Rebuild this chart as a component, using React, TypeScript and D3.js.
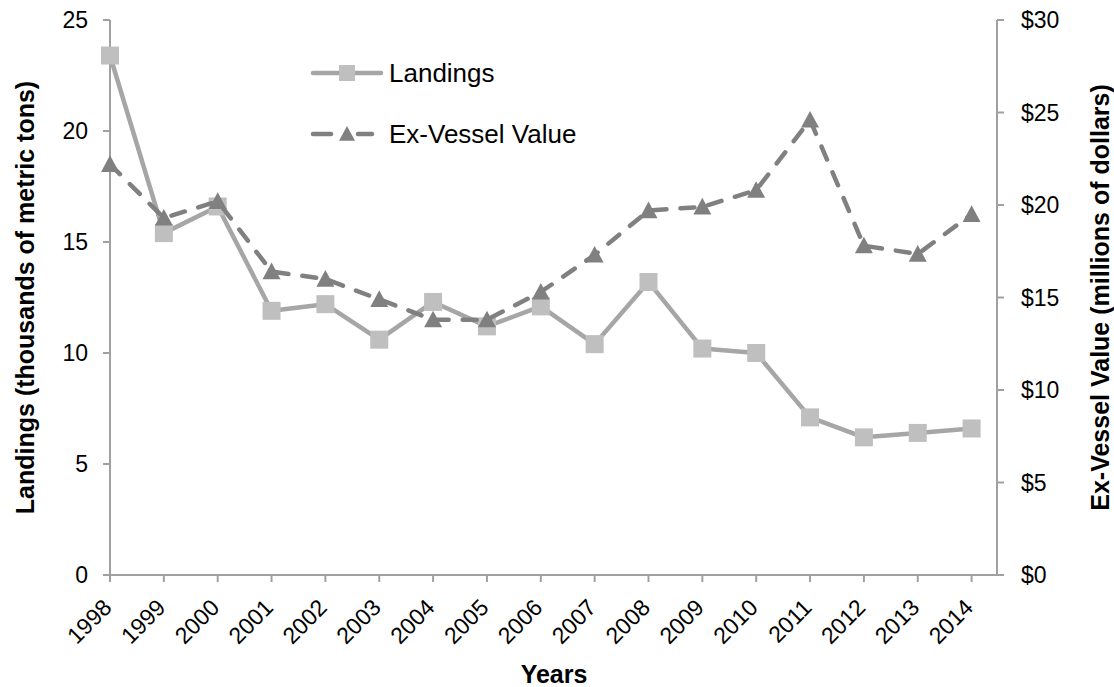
import React from "react";
import * as d3 from "d3";

const years = ["1998","1999","2000","2001","2002","2003","2004","2005","2006","2007","2008","2009","2010","2011","2012","2013","2014"];
const landings = [23.4, 15.4, 16.6, 11.9, 12.2, 10.6, 12.3, 11.2, 12.1, 10.4, 13.2, 10.2, 10.0, 7.1, 6.2, 6.4, 6.6];
const exVessel = [22.2, 19.3, 20.2, 16.4, 16.0, 14.9, 13.8, 13.8, 15.3, 17.3, 19.7, 19.9, 20.8, 24.6, 17.8, 17.35, 19.5];
const leftTicks = [0, 5, 10, 15, 20, 25];
const rightTicks = [0, 5, 10, 15, 20, 25, 30];

const W = 1114, H = 687;
const L = 110, R = 997, T = 20, B = 575;
const FONT = "'Liberation Sans', Arial, sans-serif";
const TICK_FS = 23;

export default function App() {
  const x = d3.scalePoint<string>().domain(years).range([110, 971.6]);
  const yL = d3.scaleLinear().domain([0, 25]).range([B, T]);
  const yR = d3.scaleLinear().domain([0, 30]).range([B, T]);
  const lineL = d3.line<number>().x((_, i) => x(years[i])!).y(d => yL(d));
  const lineR = d3.line<number>().x((_, i) => x(years[i])!).y(d => yR(d));
  const axisColor = "#a0a0a0";
  const tri = (cx: number, cy: number, s = 9) => `M${cx},${cy - s} L${cx + s},${cy + s * 0.85} L${cx - s},${cy + s * 0.85} Z`;

  return (
    <svg width={W} height={H} style={{ position: "absolute", left: 0, top: 0, background: "#fff" }} fontFamily={FONT}>
      {/* axes */}
      <line x1={L} y1={T} x2={L} y2={B} stroke={axisColor} strokeWidth={2} />
      <line x1={R} y1={T} x2={R} y2={B} stroke={axisColor} strokeWidth={2} />
      <line x1={L} y1={B} x2={R} y2={B} stroke={axisColor} strokeWidth={2} />
      {leftTicks.map(t => (
        <g key={"l" + t}>
          <line x1={L - 7} x2={L} y1={yL(t)} y2={yL(t)} stroke={axisColor} strokeWidth={2} />
          <text x={L - 22} y={yL(t)} dy="0.35em" textAnchor="end" fontSize={TICK_FS} fill="#000">{t}</text>
        </g>
      ))}
      {rightTicks.map(t => (
        <g key={"r" + t}>
          <line x1={R} x2={R + 7} y1={yR(t)} y2={yR(t)} stroke={axisColor} strokeWidth={2} />
          <text x={R + 24} y={yR(t)} dy="0.35em" textAnchor="start" fontSize={TICK_FS} fill="#000">{"$" + t}</text>
        </g>
      ))}
      {years.map(yv => (
        <g key={yv}>
          <line x1={x(yv)!} x2={x(yv)!} y1={B} y2={B + 7} stroke={axisColor} strokeWidth={2} />
          <text transform={`translate(${x(yv)! + 3},${B + 34}) rotate(-45)`} textAnchor="end" fontSize={TICK_FS} fill="#000">{yv}</text>
        </g>
      ))}
      {/* titles */}
      <text x={554} y={683} textAnchor="middle" fontSize={25} fontWeight="bold">Years</text>
      <text transform={`translate(34,${(T + B) / 2}) rotate(-90)`} textAnchor="middle" fontSize={25} fontWeight="bold">Landings (thousands of metric tons)</text>
      <text transform={`translate(1109,${(T + B) / 2}) rotate(-90)`} textAnchor="middle" fontSize={25} fontWeight="bold">Ex-Vessel Value (millions of dollars)</text>

      {/* Landings */}
      <path d={lineL(landings)!} fill="none" stroke="#a6a6a6" strokeWidth={4.5} strokeLinejoin="round" />
      {landings.map((v, i) => (
        <rect key={"s" + i} x={x(years[i])! - 9} y={yL(v) - 9} width={18} height={18} fill="#bfbfbf" />
      ))}
      {/* Ex-vessel */}
      <path d={lineR(exVessel)!} fill="none" stroke="#808080" strokeWidth={4.5} strokeDasharray="14 14" strokeLinecap="round" strokeLinejoin="round" />
      {exVessel.map((v, i) => (
        <path key={"t" + i} d={tri(x(years[i])!, yR(v))} fill="#808080" />
      ))}

      {/* Legend */}
      <line x1={313} x2={381} y1={73} y2={73} stroke="#a6a6a6" strokeWidth={4.5} strokeLinecap="round" />
      <rect x={339} y={65} width={16} height={16} fill="#bfbfbf" />
      <text x={389} y={73} dy="0.35em" fontSize={26}>Landings</text>
      <line x1={313} x2={331} y1={134} y2={134} stroke="#808080" strokeWidth={4.5} strokeLinecap="round" />
      <line x1={358} x2={372} y1={134} y2={134} stroke="#808080" strokeWidth={4.5} strokeLinecap="round" />
      <path d={tri(347, 134, 8)} fill="#808080" />
      <text x={389} y={134} dy="0.35em" fontSize={26}>Ex-Vessel Value</text>
    </svg>
  );
}
